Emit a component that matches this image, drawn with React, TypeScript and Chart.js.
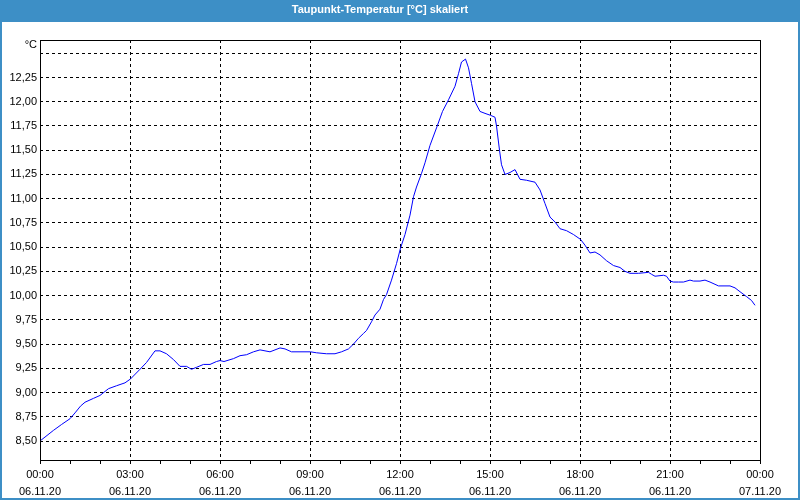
import { useEffect, useRef } from 'react';
import { Chart, registerables } from 'chart.js';

Chart.register(...registerables);

const TITLE = 'Taupunkt-Temperatur [°C] skaliert';
const UNIT = '°C';

// minutes since 06.11.20 00:00
const minutes = [
  0, 27, 43, 60, 70, 81, 90, 107, 120, 137, 153, 170, 181, 200, 213, 230, 240, 253, 267, 280,
  293, 303, 313, 327, 340, 353, 360, 368, 387, 400, 413, 427, 440, 450, 460, 470, 480, 490,
  503, 520, 541, 553, 573, 590, 603, 617, 627, 637, 647, 653, 663, 670, 680, 687, 693, 703,
  713, 721, 730, 740, 747, 753, 763, 770, 780, 793, 805, 817, 830, 837, 843, 851, 857, 863,
  870, 880, 890, 901, 910, 913, 919, 923, 930, 940, 950, 960, 973, 990, 1000, 1010, 1020,
  1030, 1040, 1053, 1067, 1081, 1090, 1100, 1110, 1120, 1133, 1147, 1160, 1170, 1180, 1197,
  1217, 1223, 1230, 1247, 1253, 1260, 1267, 1277, 1287, 1300, 1307, 1320, 1330, 1340, 1357,
  1380, 1390, 1400, 1413, 1423, 1430,
];

const dewPoint = [
  8.5, 8.61, 8.67, 8.73, 8.79, 8.86, 8.9, 8.94, 8.97, 9.04, 9.07, 9.1, 9.14, 9.24, 9.31, 9.43, 9.43, 9.4, 9.34, 9.27,
  9.27, 9.24, 9.26, 9.29, 9.29, 9.32, 9.33, 9.32, 9.35, 9.38, 9.39, 9.42, 9.44, 9.43, 9.42, 9.44, 9.46, 9.45,
  9.42, 9.42, 9.42, 9.41, 9.4, 9.4, 9.42, 9.45, 9.5, 9.56, 9.61, 9.64, 9.73, 9.8, 9.86, 9.96, 10.01, 10.16,
  10.33, 10.49, 10.63, 10.83, 11.02, 11.12, 11.26, 11.37, 11.55, 11.73, 11.9, 12.02, 12.16, 12.29, 12.41, 12.44, 12.35, 12.19,
  12.0, 11.9, 11.88, 11.86, 11.84, 11.75, 11.5, 11.35, 11.25, 11.27, 11.3, 11.2, 11.19, 11.17, 11.09, 10.95, 10.81,
  10.76, 10.69, 10.67, 10.63, 10.58, 10.52, 10.44, 10.45, 10.42, 10.36, 10.31, 10.29, 10.25, 10.23, 10.23,
  10.24, 10.22, 10.2, 10.21, 10.2, 10.15, 10.14, 10.14, 10.14, 10.16, 10.15, 10.15, 10.16, 10.14, 10.1,
  10.1, 10.08, 10.04, 9.99, 9.95, 9.9,
];

const yTicks = [8.5, 8.75, 9.0, 9.25, 9.5, 9.75, 10.0, 10.25, 10.5, 10.75, 11.0, 11.25, 11.5, 11.75, 12.0, 12.25, 12.5];
const yUnlabeled = [12.5];
const Y_MIN = 8.304;
const Y_MAX = 12.637;

const xTickMinutes = [
  0, 60, 120, 180, 240, 300, 360, 420, 480, 540, 600, 660, 720, 780, 840, 900, 960, 1020, 1080,
  1140, 1200, 1260, 1320, 1380, 1440,
];
const xLabelTimes = ['00:00', '03:00', '06:00', '09:00', '12:00', '15:00', '18:00', '21:00', '00:00'];
const xLabelDates = ['06.11.20', '06.11.20', '06.11.20', '06.11.20', '06.11.20', '06.11.20', '06.11.20', '06.11.20', '07.11.20'];

const BLUE = '#3d8fc6';
const FONT = '"Liberation Sans", Arial, sans-serif';

export default function App() {
  const ref = useRef<HTMLCanvasElement | null>(null);

  useEffect(() => {
    if (!ref.current) return;
    const framePlugin = {
      id: 'frame',
      beforeDraw(chart: any) {
        const { ctx, width, height } = chart;
        ctx.save();
        ctx.fillStyle = '#ffffff';
        ctx.fillRect(0, 0, width, height);
        ctx.fillStyle = BLUE;
        ctx.fillRect(0, 0, width, 20);
        ctx.restore();
      },
      afterDraw(chart: any) {
        const { ctx, chartArea: a, width, height } = chart;
        ctx.save();
        ctx.setLineDash([]);
        ctx.strokeStyle = '#000';
        ctx.lineWidth = 1;
        ctx.strokeRect(a.left + 0.5, a.top + 0.5, a.right - a.left, a.bottom - a.top);
        ctx.strokeStyle = BLUE;
        ctx.lineWidth = 2;
        ctx.strokeRect(1, 21, width - 2, height - 22);
        ctx.fillStyle = '#000';
        ctx.font = '11px ' + FONT;
        ctx.textAlign = 'right';
        ctx.textBaseline = 'middle';
        ctx.fillText(UNIT, a.left - 3, a.top + 5);
        ctx.restore();
      },
    };

    const chart = new Chart(ref.current, {
      type: 'line',
      data: {
        datasets: [
          {
            data: minutes.map((m, i) => ({ x: m, y: dewPoint[i] })),
            borderColor: '#0000ff',
            borderWidth: 1,
            pointRadius: 0,
            tension: 0,
            fill: false,
          },
        ],
      },
      options: {
        animation: false,
        responsive: false,
        layout: { padding: { left: 0, right: 40, top: 0, bottom: 0 } },
        plugins: {
          legend: { display: false },
          tooltip: { enabled: false },
          title: {
            display: true,
            text: TITLE,
            color: '#ffffff',
            font: { family: FONT, size: 11, weight: 'bold', lineHeight: 1.2 },
            padding: { top: 3, bottom: 40 - 3 - 13.2 },
          },
        },
        scales: {
          x: {
            type: 'linear',
            min: 0,
            max: 1440,
            afterBuildTicks: (scale: any) => {
              scale.ticks = xTickMinutes.map((v) => ({ value: v }));
            },
            afterFit: (scale: any) => {
              scale.height = 40;
            },
            ticks: {
              autoSkip: false,
              maxRotation: 0,
              padding: 2,
              color: '#000',
              font: { family: FONT, size: 11, lineHeight: 1.55 },
              callback: (value: any, index: number) => {
                if (index % 3 !== 0) return '';
                const k = index / 3;
                return [xLabelTimes[k], xLabelDates[k]];
              },
            },
            grid: {
              color: (ctx: any) => (ctx.tick && ctx.tick.value % 180 === 0 ? '#000' : 'rgba(0,0,0,0)'),
              lineWidth: 1,
              drawTicks: true,
              tickLength: 4,
              tickColor: '#000',
              tickWidth: 1,
              tickBorderDash: [],
            },
            border: { display: false, dash: [3, 3] },
          },
          y: {
            type: 'linear',
            min: Y_MIN,
            max: Y_MAX,
            afterBuildTicks: (scale: any) => {
              scale.ticks = yTicks.map((v) => ({ value: v }));
            },
            afterFit: (scale: any) => {
              scale.width = 40;
            },
            ticks: {
              autoSkip: false,
              padding: 3,
              color: '#000',
              font: { family: FONT, size: 11 },
              callback: (value: any) => {
                const v = Number(value);
                if (yUnlabeled.some((u) => Math.abs(u - v) < 1e-6)) return '';
                return v.toFixed(2).replace('.', ',');
              },
            },
            grid: {
              color: '#000',
              lineWidth: 1,
              drawTicks: false,
            },
            border: { display: false, dash: [3, 3] },
          },
        },
      },
      plugins: [framePlugin],
    } as any);

    return () => chart.destroy();
  }, []);

  return (
    <div style={{ position: 'fixed', left: 0, top: 0, width: 800, height: 500, background: '#fff' }}>
      <canvas ref={ref} width={800} height={500} style={{ display: 'block', width: 800, height: 500 }} />
    </div>
  );
}
